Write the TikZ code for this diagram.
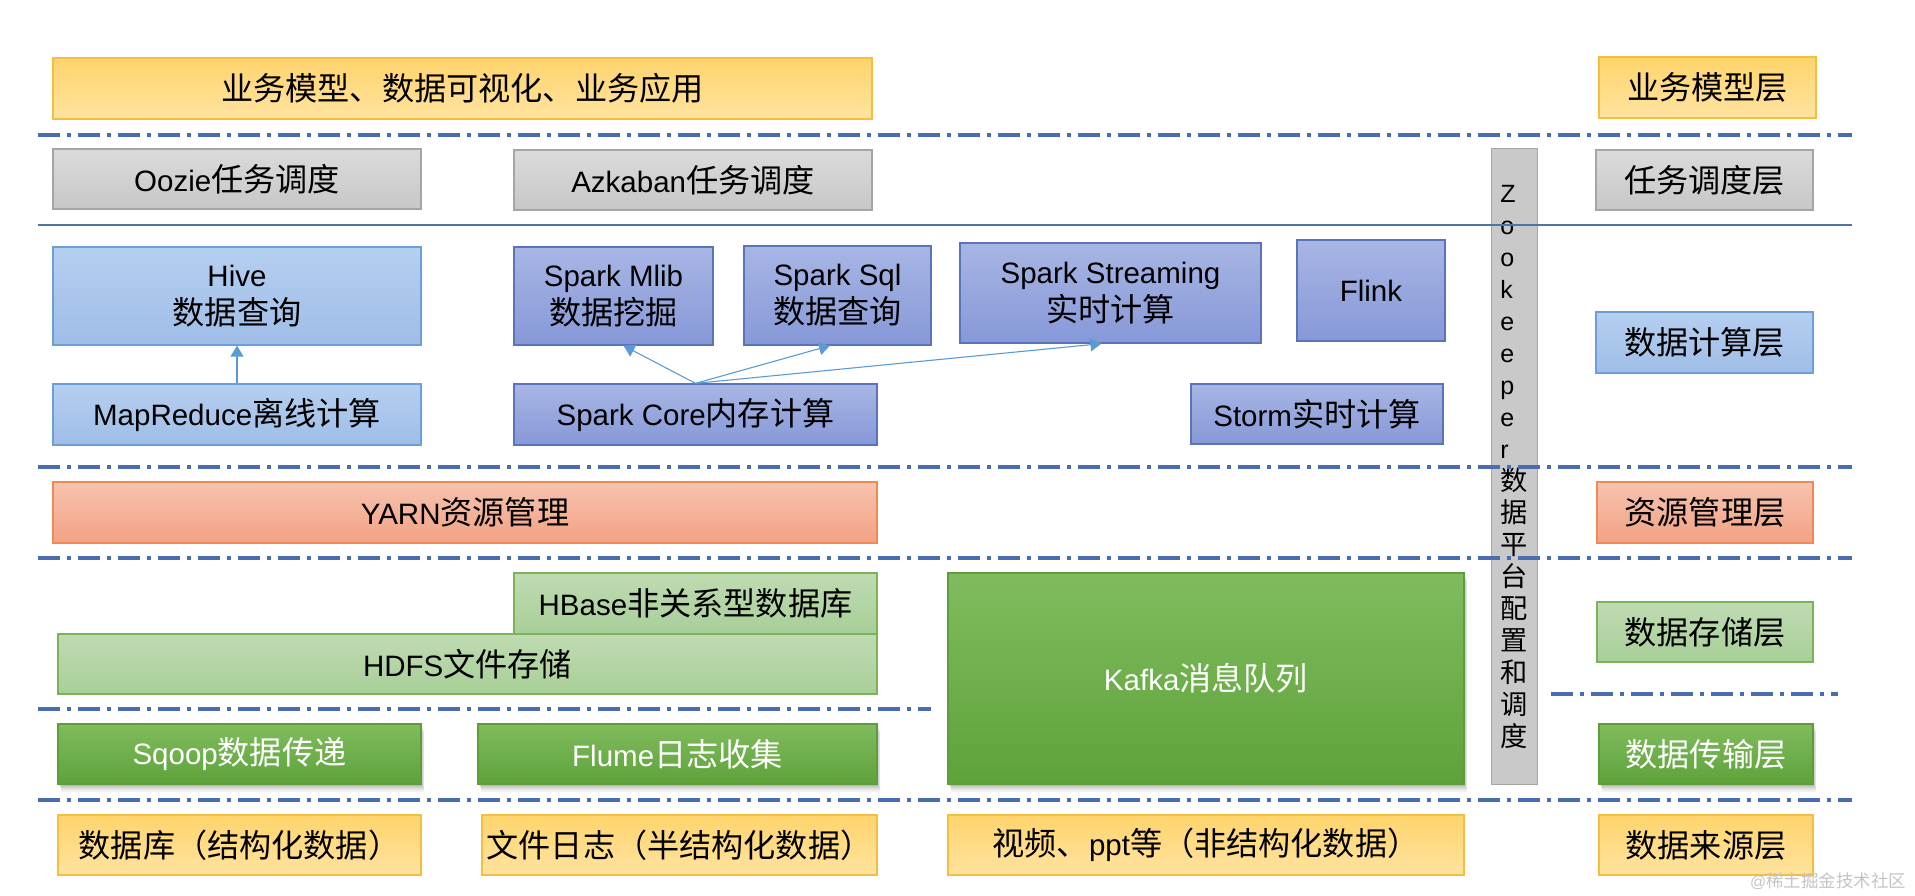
\documentclass[tikz,border=0pt]{standalone}
\usepackage{fontspec}
\setmainfont{Liberation Sans}
\newfontfamily\latinfont{Liberation Sans}
\newfontfamily\cjkfont[Scale=1.09]{Noto Sans CJK SC}
\XeTeXinterchartokenstate=1
\newXeTeXintercharclass\cjkclass
\newcount\cjkcnt
\cjkcnt="3000
\loop \XeTeXcharclass\cjkcnt=\cjkclass \ifnum\cjkcnt<"303F \advance\cjkcnt by 1 \repeat
\cjkcnt="4E00
\loop \XeTeXcharclass\cjkcnt=\cjkclass \ifnum\cjkcnt<"9FFF \advance\cjkcnt by 1 \repeat
\cjkcnt="FF00
\loop \XeTeXcharclass\cjkcnt=\cjkclass \ifnum\cjkcnt<"FFEF \advance\cjkcnt by 1 \repeat
\XeTeXinterchartoks 0 \cjkclass = {\cjkfont}
\XeTeXinterchartoks 4095 \cjkclass = {\cjkfont}
\XeTeXinterchartoks \cjkclass 0 = {\latinfont}
\XeTeXinterchartoks \cjkclass 4095 = {\latinfont}
\usetikzlibrary{shadows,arrows.meta,calc}
\definecolor{cY1}{HTML}{FFD46C}
\definecolor{cY2}{HTML}{FFE3A0}
\definecolor{cYb}{HTML}{F4BF3E}
\definecolor{cG1}{HTML}{DBDBDB}
\definecolor{cG2}{HTML}{C7C7C7}
\definecolor{cGb}{HTML}{A5A5A5}
\definecolor{cL1}{HTML}{B5CFF0}
\definecolor{cL2}{HTML}{9FBDE7}
\definecolor{cLb}{HTML}{6C9FD8}
\definecolor{cS1}{HTML}{A8B6E4}
\definecolor{cS2}{HTML}{8698D8}
\definecolor{cSb}{HTML}{5B73B9}
\definecolor{cO1}{HTML}{F7C3AF}
\definecolor{cO2}{HTML}{F2A283}
\definecolor{cOb}{HTML}{EE8A55}
\definecolor{cE1}{HTML}{BFDBB2}
\definecolor{cE2}{HTML}{A8CF98}
\definecolor{cEb}{HTML}{7DB15A}
\definecolor{cD1}{HTML}{80BC5E}
\definecolor{cD2}{HTML}{5EA23A}
\definecolor{cDb}{HTML}{5D9E3A}
\definecolor{cZ}{HTML}{C9C9C9}
\definecolor{cZb}{HTML}{A6A6A6}
\definecolor{cSep}{HTML}{4A6CB0}
\definecolor{cSolid}{HTML}{5473A5}
\definecolor{cArr}{HTML}{5B9BD5}
\definecolor{cWM}{HTML}{C4C4C4}
\tikzset{
  bx/.style={draw, line width=1.3pt, inner sep=0pt, align=center, text=black,
    font=\fontsize{29.5}{38}\selectfont},
  ylw/.style={bx, draw=cYb, top color=cY1, bottom color=cY2},
  gry/.style={bx, draw=cGb, top color=cG1, bottom color=cG2},
  lbl/.style={bx, draw=cLb, top color=cL1, bottom color=cL2},
  spk/.style={bx, draw=cSb, top color=cS1, bottom color=cS2},
  org/.style={bx, draw=cOb, top color=cO1, bottom color=cO2},
  lgr/.style={bx, draw=cEb, top color=cE1, bottom color=cE2},
  dgr/.style={bx, draw=cDb, top color=cD1, bottom color=cD2, text=white,
    drop shadow={shadow xshift=3pt, shadow yshift=-8pt, opacity=0.05, fill=black},
    drop shadow={shadow xshift=2.5pt, shadow yshift=-6pt, opacity=0.07, fill=black},
    drop shadow={shadow xshift=2pt, shadow yshift=-4pt, opacity=0.09, fill=black},
    drop shadow={shadow xshift=1pt, shadow yshift=-2pt, opacity=0.12, fill=black}},
  sep/.style={line width=3.2pt, draw=cSep, dash pattern=on 22pt off 7pt on 4pt off 7pt},
  solidsep/.style={line width=1.4pt, draw=cSolid},
  arr/.style={draw=cArr, line width=1.1pt, -{Triangle[width=13pt,length=11pt]}},
  zkbar/.style={draw=cZb, fill=cZ, line width=1pt, inner sep=0pt, align=left,
    font=\fontsize{25}{32}\selectfont}
}
\begin{document}
\begin{tikzpicture}[x=1pt,y=-1pt]
\useasboundingbox (0,0) rectangle (1915,896);
% layers
\node[ylw, minimum width=819pt, minimum height=61pt] (biz) at (462.5,88.5) {业务模型、数据可视化、业务应用};
\node[ylw, minimum width=217pt, minimum height=61pt] (bizL) at (1707.5,87.5) {业务模型层};
\node[gry, minimum width=368pt, minimum height=60pt] (oozie) at (237,179) {Oozie任务调度};
\node[gry, minimum width=358pt, minimum height=60pt] (azk) at (693,180) {Azkaban任务调度};
\node[gry, minimum width=217pt, minimum height=60pt] (taskL) at (1704.5,180) {任务调度层};
\node[lbl, minimum width=368pt, minimum height=98pt] (hive) at (237,296) {Hive\\数据查询};
\node[spk, minimum width=199pt, minimum height=98pt] (mlib) at (613.5,296) {Spark Mlib\\数据挖掘};
\node[spk, minimum width=187pt, minimum height=99pt] (sql) at (837.5,295.5) {Spark Sql\\数据查询};
\node[spk, minimum width=301pt, minimum height=100pt] (stream) at (1110.5,293) {Spark Streaming\\实时计算};
\node[spk, minimum width=148pt, minimum height=101pt] (flink) at (1371,290.5) {Flink};
\node[lbl, minimum width=217pt, minimum height=61pt] (compL) at (1704.5,342.5) {数据计算层};
\node[lbl, minimum width=368pt, minimum height=61pt] (mapred) at (237,414.5) {MapReduce离线计算};
\node[spk, minimum width=363pt, minimum height=61pt] (core) at (695.5,414.5) {Spark Core内存计算};
\node[spk, minimum width=252pt, minimum height=60pt] (storm) at (1317,414) {Storm实时计算};
\node[org, minimum width=824pt, minimum height=61pt] (yarn) at (465,512.5) {YARN资源管理};
\node[org, minimum width=216pt, minimum height=61pt] (resL) at (1705,512.5) {资源管理层};
\node[lgr, minimum width=363pt, minimum height=61pt] (hbase) at (695.5,603.5) {HBase非关系型数据库};
\node[lgr, minimum width=819pt, minimum height=60pt] (hdfs) at (467.5,664) {HDFS文件存储};
\node[lgr, minimum width=216pt, minimum height=60pt] (storeL) at (1705,632) {数据存储层};
\node[dgr, minimum width=516pt, minimum height=211pt] (kafka) at (1206,678.5) {Kafka消息队列};
\node[dgr, minimum width=363pt, minimum height=60pt] (sqoop) at (239.5,754) {Sqoop数据传递};
\node[dgr, minimum width=399pt, minimum height=60pt] (flume) at (677.5,754) {Flume日志收集};
\node[dgr, minimum width=214pt, minimum height=60pt] (transL) at (1706,754) {数据传输层};
\node[ylw, minimum width=363pt, minimum height=60pt] (db) at (239.5,845) {数据库（结构化数据）};
\node[ylw, minimum width=395pt, minimum height=60pt] (file) at (679.5,845) {文件日志（半结构化数据）};
\node[ylw, minimum width=516pt, minimum height=60pt] (video) at (1206,845) {视频、ppt等（非结构化数据）};
\node[ylw, minimum width=214pt, minimum height=60pt] (srcL) at (1706,845) {数据来源层};
% zookeeper bar
\node[zkbar, minimum width=46pt, minimum height=635pt] (zk) at (1514,466.5)
  {Z\\o\\o\\k\\e\\e\\p\\e\\r\\数\\据\\平\\台\\配\\置\\和\\调\\度};
% separators
\draw[sep] (38,135) -- (1852,135);
\draw[solidsep] (38,225) -- (1852,225);
\draw[sep] (38,467) -- (1852,467);
\draw[sep] (38,558) -- (1852,558);
\draw[sep] (38,709) -- (931,709);
\draw[sep] (1551,694) -- (1838,694);
\draw[sep] (38,800) -- (1852,800);
% arrows
\coordinate (mlibIn) at ($(mlib.south west)!0.55!(mlib.south east)$);
\coordinate (sqlIn) at ($(sql.south west)!0.46!(sql.south east)$);
\coordinate (streamIn) at ($(stream.south west)!0.47!(stream.south east)$);
\draw[arr] (mapred.north) -- (hive.south);
\draw[arr] (core.north) -- (mlibIn);
\draw[arr] (core.north) -- (sqlIn);
\draw[arr] (core.north) -- (streamIn);
% watermark
\node[text=cWM, font=\fontsize{16}{18}\selectfont, inner sep=0pt] (wm) at (1828,881) {@稀土掘金技术社区};
\end{tikzpicture}
\end{document}
